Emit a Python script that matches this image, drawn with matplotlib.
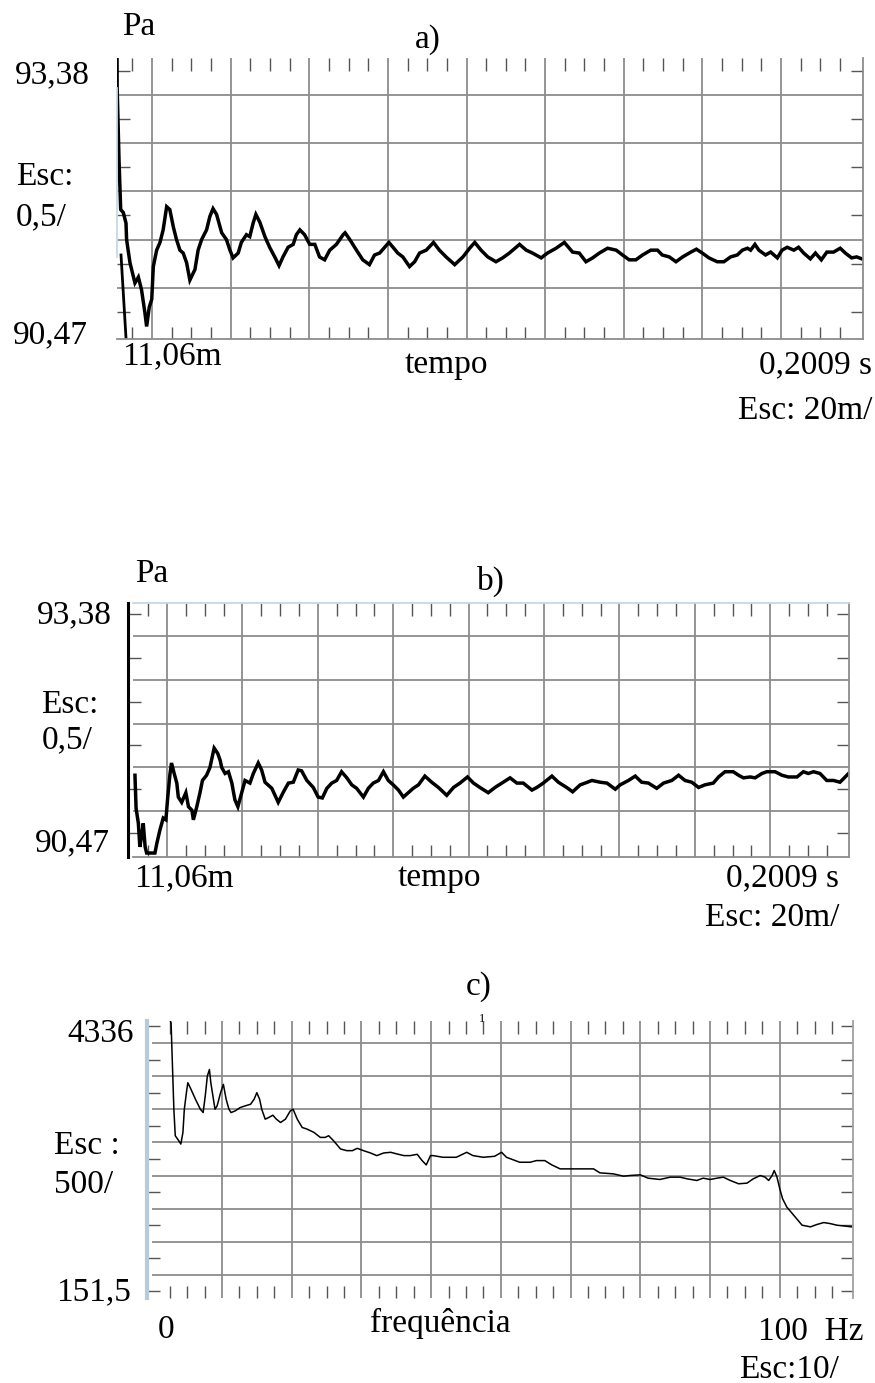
import matplotlib
matplotlib.use("Agg")
import matplotlib.pyplot as plt
import numpy as np

# ------------------------------
# Data
# ------------------------------
# a) pressure vs time (ms, Pa)
t_a = [11.06, 11.1, 11.57, 12.0, 12.66, 13.35, 13.5, 14.36, 15.63, 16.5,
       17.3, 18.17, 18.6, 19.27, 19.9, 20.3, 21.15, 22.0, 22.8, 23.7,
       24.5, 25.4, 26.2, 27.07, 27.9, 28.77, 29.6, 30.9, 31.7, 32.6,
       33.85, 34.7, 35.5, 36.4, 37.7, 38.9, 39.8, 40.6, 41.9, 42.7,
       44.0, 44.85, 45.7, 46.4, 47.4, 48.7, 49.9, 51.2, 52.3, 53.3,
       54.6, 55.9, 56.7, 57.6, 58.8, 60.1, 61.4, 62.6, 63.9, 65.2,
       66.9, 68.6, 69.1, 70.3, 72.0, 73.6, 75.3,
       76.6, 77.9, 79.2, 80.25, 81.3, 82.5, 83.8, 85.5, 86.8, 88.05,
       89.75, 91.6, 93.1, 94.8, 97.0, 99.1, 100.8, 102.1, 103.7, 105.4,
       107.5, 109.2, 110.9, 113.5, 115.2, 116.8, 119.0, 120.6, 122.8, 124.9,
       127.0, 128.7, 130.4, 132.1, 133.8, 135.9, 138.1,
       139.7, 141.4, 143.1, 144.8, 146.9, 148.6, 149.8, 151.6, 153.3, 155.0,
       157.1, 158.5, 160.0, 161.7, 163.8, 165.5, 167.2, 168.9, 170.2, 171.5,
       172.3, 173.4, 174.4, 176.1, 177.4, 179.1, 180.3, 181.6, 183.3, 184.5,
       185.8, 187.5, 188.8, 190.3, 191.7, 193.4, 195.1, 196.4, 198.0, 199.3,
       200.6]
p_a = [93.45, 93.07, 92.33, 91.81, 91.78, 91.67, 91.50, 91.26, 91.05, 91.11,
       90.98, 90.74, 90.60, 90.80, 90.88, 91.22, 91.39, 91.47, 91.60, 91.84,
       91.81, 91.63, 91.50, 91.39, 91.36, 91.26, 91.08, 91.19, 91.39, 91.50,
       91.60, 91.74, 91.82, 91.76, 91.57, 91.50, 91.39, 91.31, 91.36, 91.47,
       91.55, 91.53, 91.67, 91.76, 91.68, 91.53, 91.42, 91.32, 91.23, 91.32,
       91.42, 91.45, 91.55, 91.60, 91.55, 91.45, 91.45, 91.32, 91.29, 91.39,
       91.45, 91.55, 91.57, 91.50, 91.39, 91.29, 91.24,
       91.34, 91.36, 91.42, 91.47, 91.42, 91.36, 91.32, 91.22, 91.27, 91.36,
       91.39, 91.47, 91.39, 91.32, 91.24, 91.32, 91.41, 91.47, 91.39, 91.32,
       91.27, 91.31, 91.36, 91.45, 91.39, 91.36, 91.31, 91.36, 91.41, 91.47,
       91.37, 91.36, 91.27, 91.31, 91.36, 91.41, 91.39,
       91.34, 91.29, 91.29, 91.34, 91.39, 91.39, 91.34, 91.32, 91.27, 91.32,
       91.37, 91.40, 91.36, 91.31, 91.27, 91.27, 91.32, 91.34, 91.39, 91.41,
       91.39, 91.45, 91.39, 91.34, 91.37, 91.31, 91.39, 91.42, 91.39, 91.42,
       91.36, 91.30, 91.36, 91.29, 91.37, 91.37, 91.41, 91.36, 91.31, 91.32,
       91.30]
# steep initial drop drawn separately in a)
t_a_drop = [12.08, 13.47]
p_a_drop = [91.34, 90.40]

# b) pressure vs time (ms, Pa)
t_b = [11.5, 11.8, 12.4, 12.8, 13.2, 13.7, 14.2, 14.6, 15.5, 16.8,
       17.3, 18.1, 19.0, 19.7, 20.2, 20.8, 21.2, 21.9, 22.6, 23.0,
       23.9, 25.0, 25.7, 26.6, 27.0, 27.9, 28.75, 29.4, 30.5, 31.4,
       32.0, 32.5, 33.45, 34.1, 34.5, 35.4, 36.3, 37.2, 38.0, 38.8,
       39.8, 40.7, 42.0, 42.9, 44.2, 45.1, 46.0, 47.8, 49.5, 50.9,
       52.2, 53.5, 54.8, 55.7, 57.1, 58.8, 60.1, 61.2, 62.4, 63.7,
       65.0, 66.3, 67.7, 69.0, 70.3, 72.1, 73.4, 74.7, 76.1, 77.4,
       78.7, 80.0, 81.4, 82.7, 84.0, 85.3, 86.7, 88.4, 90.2, 92.0,
       94.2, 96.0, 97.7, 99.7, 101.3, 103.0, 105.2, 107.0, 108.8, 111.0,
       112.8, 114.5, 116.8, 118.1, 119.8, 122.1, 123.8, 126.0, 127.6, 129.6,
       130.9, 132.7, 134.9, 136.7, 138.9, 140.2, 142.4, 144.2, 145.9, 147.7,
       149.9, 151.7, 153.9, 155.7, 157.4, 159.2, 161.0, 162.7, 164.9, 166.3,
       168.0, 170.2, 171.6, 172.9, 174.7, 176.0, 177.8, 179.1, 181.3, 183.1,
       184.8, 187.1, 188.8, 190.1, 191.5, 193.2, 195.0, 196.8, 198.5, 199.9,
       200.8]
p_b = [91.41, 91.03, 90.86, 90.59, 90.70, 90.86, 90.59, 90.52, 90.52, 90.52,
       90.63, 90.78, 90.92, 90.90, 91.16, 91.43, 91.55, 91.43, 91.32, 91.16,
       91.10, 91.21, 91.05, 91.01, 90.90, 91.05, 91.21, 91.35, 91.41, 91.50,
       91.62, 91.72, 91.66, 91.58, 91.50, 91.43, 91.45, 91.32, 91.13, 91.05,
       91.21, 91.35, 91.32, 91.43, 91.55, 91.47, 91.33, 91.26, 91.10, 91.22,
       91.32, 91.33, 91.47, 91.46, 91.35, 91.27, 91.16, 91.15, 91.26, 91.32,
       91.35, 91.45, 91.38, 91.30, 91.26, 91.16, 91.26, 91.32, 91.35, 91.45,
       91.35, 91.30, 91.24, 91.16, 91.21, 91.26, 91.30, 91.40, 91.33, 91.27,
       91.18, 91.27, 91.32, 91.39, 91.32, 91.27, 91.21, 91.27, 91.32, 91.38,
       91.32, 91.32, 91.24, 91.27, 91.32, 91.40, 91.33, 91.27, 91.22, 91.30,
       91.32, 91.35, 91.33, 91.32, 91.25, 91.30, 91.35, 91.40, 91.33, 91.32,
       91.26, 91.32, 91.35, 91.41, 91.35, 91.33, 91.27, 91.30, 91.32, 91.39,
       91.45, 91.45, 91.41, 91.38, 91.39, 91.38, 91.43, 91.45, 91.45, 91.41,
       91.39, 91.39, 91.45, 91.43, 91.45, 91.43, 91.35, 91.35, 91.33, 91.39,
       91.43]

# c) spectrum (Hz, amplitude)
f_c = [2.4, 2.7, 2.9, 3.1, 3.3, 3.8, 4.1, 4.4, 4.6, 4.9,
       5.1, 5.45, 6.2, 6.9, 7.3, 7.6, 7.9, 8.2, 8.4, 8.7,
       9.0, 9.3, 9.8, 10.2, 10.6, 11.0, 11.3, 11.9, 12.6, 13.3,
       14.1, 14.6, 15.0, 15.4, 15.7, 16.2, 16.7, 17.3, 17.8, 18.4,
       19.1, 19.8, 20.2, 20.8, 21.5, 22.2, 23.2, 24.1, 24.8, 25.3,
       26.0, 27.0, 27.9, 28.7, 29.4, 30.3, 31.3, 32.2, 33.2, 34.2,
       35.1, 36.1, 37.0, 38.0, 38.7, 39.3, 39.9,
       40.3, 41.7, 43.6, 45.1, 46.0, 47.5, 49.1, 50.1, 50.8, 52.7,
       54.2, 55.1, 56.3, 57.3, 58.5, 59.9, 61.8, 63.3, 64.2, 66.1,
       67.6, 68.5, 70.0, 71.1, 72.8, 74.3, 75.7, 76.7, 78.1, 79.0,
       80.0, 81.0, 81.9, 82.9, 84.1, 85.3, 86.2, 87.2, 87.9, 88.4,
       88.9, 89.2, 89.6, 90.0, 90.4, 91.0, 92.0, 93.2, 94.4, 95.3,
       96.3, 97.2, 98.2, 99.1, 100.3]
amp_c = [4400, 4300, 3650, 3000, 2600, 2525, 2475, 2650, 3000, 3250,
         3400, 3325, 3150, 3000, 2950, 3200, 3500, 3600, 3400, 3200,
         3000, 3050, 3250, 3375, 3150, 3000, 2950, 2975, 3025, 3050,
         3075, 3150, 3250, 3150, 3000, 2850, 2875, 2910, 2850, 2800,
         2850, 2975, 3000, 2850, 2725, 2700, 2650, 2575, 2575, 2600,
         2525, 2400, 2375, 2375, 2410, 2375, 2340, 2300, 2340, 2350,
         2325, 2300, 2300, 2320, 2225, 2160, 2300,
         2300, 2275, 2275, 2350, 2300, 2275, 2290, 2350, 2275, 2200,
         2200, 2225, 2225, 2160, 2100, 2100, 2100, 2100, 2040, 2025,
         1990, 2000, 2010, 1960, 1940, 1975, 1975, 1950, 1925, 1960,
         1940, 1960, 1975, 1925, 1875, 1885, 1950, 2000, 1975, 1925,
         2000, 2075, 1975, 1800, 1650, 1525, 1400, 1250, 1225, 1260,
         1290, 1275, 1250, 1240, 1225]

# ------------------------------
# Figure
# ------------------------------
W, H = 875, 1383
fig = plt.figure(figsize=(W / 100, H / 100), dpi=100)
FONT = 'Liberation Serif'
FS = 24
GRID = '#8c8c8c'
TICK = '#555555'
BLUE = '#c6d9e6'


def px_axes(left, top, right, bottom):
    return fig.add_axes([left / W, 1 - bottom / H, (right - left) / W, (bottom - top) / H])


def txt(x, y, s, ha='left', size=FS):
    fig.text(x / W, 1 - y / H, s, ha=ha, va='baseline', fontsize=size,
             family=FONT, color='black')


def style(ax, xmaj, xmin, ymaj, ymin):
    ax.set_xticks(xmaj)
    ax.set_xticks(xmin, minor=True)
    ax.set_yticks(ymaj)
    ax.set_yticks(ymin, minor=True)
    ax.grid(which='major', color=GRID, lw=1.3)
    ax.set_axisbelow(True)
    ax.tick_params(which='major', length=0, labelbottom=False, labelleft=False)
    ax.tick_params(which='minor', direction='in', length=9, width=1, color=TICK,
                   top=True, bottom=True, left=True, right=True)
    for s in ax.spines.values():
        s.set_color(GRID)
        s.set_linewidth(1.3)


# ---- a) ----
ax = px_axes(117, 58, 863, 339)
ax.plot(t_a, p_a, color='black', lw=2.5, solid_joinstyle='miter')
ax.plot(t_a_drop, p_a_drop, color='black', lw=2.0)
ax.set_xlim(11.06, 200.9)
ax.set_ylim(90.47, 93.38)
xmin_t = [v for v in range(15, 201, 5) if v % 20]
style(ax, range(20, 181, 20), xmin_t, [91, 91.5, 92, 92.5, 93],
      [90.75, 91.25, 91.75, 92.25, 92.75, 93.25])
ax.spines['top'].set_visible(False)
ax.spines['left'].set_color(BLUE)
ax.spines['left'].set_bounds(91.32, 93.07)

txt(122, 35, 'Pa')
txt(415, 48, 'a)')
txt(90, 83, '93,38', ha='right')
txt(16, 185, 'Esc:')
txt(16, 225, '0,5/')
txt(88, 343, '90,47', ha='right')
txt(122, 364, '11,06m')
txt(446, 373, 'tempo', ha='center')
txt(872, 373, '0,2009 s', ha='right')
txt(872, 419, 'Esc: 20m/', ha='right')

# ---- b) ----
ax = px_axes(133.3, 603, 849, 857.4)
ax.plot(t_b, p_b, color='black', lw=2.5, solid_joinstyle='miter')
ax.set_xlim(11.06, 200.9)
ax.set_ylim(90.47, 93.38)
style(ax, range(20, 181, 20), xmin_t, [91, 91.5, 92, 92.5, 93],
      [90.75, 91.25, 91.75, 92.25, 92.75, 93.25])
ax.spines['top'].set_color(BLUE)
ax.spines['left'].set_color('black')
ax.spines['left'].set_linewidth(2.2)
ax.spines['left'].set_position(('outward', 4))

txt(135, 582, 'Pa')
txt(477, 590, 'b)')
txt(112, 623, '93,38', ha='right')
txt(41, 713, 'Esc:')
txt(42, 748, '0,5/')
txt(110, 851, '90,47', ha='right')
txt(134, 886, '11,06m')
txt(439, 886, 'tempo', ha='center')
txt(839, 886, '0,2009 s', ha='right')
txt(839, 926, 'Esc: 20m/', ha='right')

# ---- c) ----
ax = px_axes(152.25, 1020.7, 853, 1298)
ax.plot(f_c, amp_c, color='black', lw=1.1)
ax.set_xlim(0, 100.5)
ax.set_ylim(151.5, 4336)
xmin_f = [v for v in np.arange(2.5, 100, 2.5) if v % 10]
style(ax, range(10, 91, 10), xmin_f, range(500, 4001, 500), range(250, 4300, 500))
ax.spines['top'].set_visible(False)
ax.spines['bottom'].set_visible(False)
ax.spines['right'].set_color('#a0a0a0')
ax.spines['left'].set_color('#b5ccd9')
ax.spines['left'].set_linewidth(3)
ax.spines['left'].set_position(('outward', 4))

txt(479, 995, 'c)', ha='center')
txt(482, 1022, '1', ha='center', size=9)
txt(134, 1042, '4336', ha='right')
txt(54, 1154, 'Esc :')
txt(54, 1193, '500/')
txt(131, 1300, '151,5', ha='right')
txt(166, 1338, '0', ha='center')
txt(440, 1332, 'frequência', ha='center')
txt(864, 1340, '100  Hz', ha='right')
txt(839, 1378, 'Esc:10/', ha='right')

fig.savefig('out.png', dpi=100)
